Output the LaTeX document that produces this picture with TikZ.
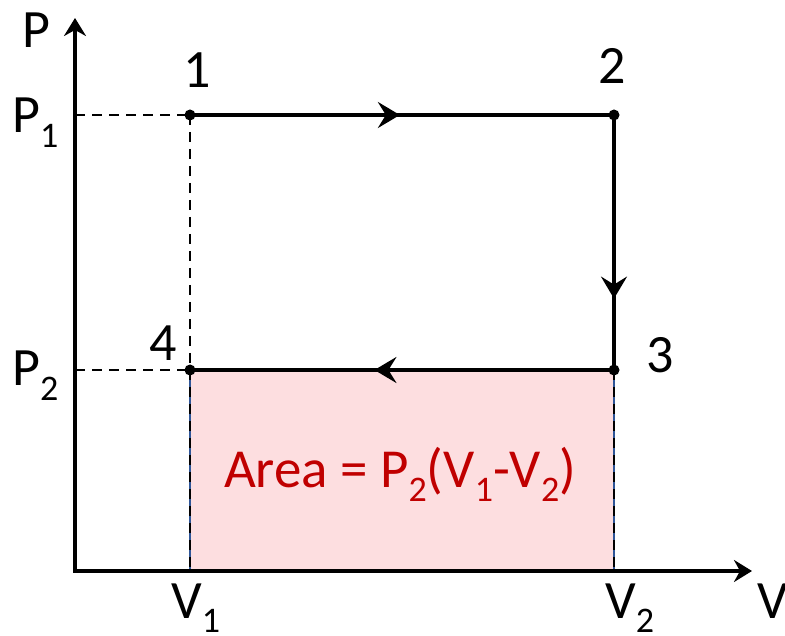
\documentclass[tikz,border=0pt]{standalone}
\usepackage{fontspec}
\setmainfont{Carlito}
\usetikzlibrary{arrows.meta,decorations.markings}
\definecolor{areafill}{RGB}{253,222,224}
\definecolor{areared}{RGB}{192,0,0}
\definecolor{areaborder}{RGB}{47,85,151}
\newcommand{\lowsub}[1]{\raisebox{-0.27em}{\fontsize{36}{40}\selectfont #1}}
\begin{document}
\begin{tikzpicture}[x=1pt,y=-1pt,
  lbl/.style={font=\fontsize{54}{60}\selectfont, inner sep=0pt},
  pathline/.style={line width=3.2pt},
  dashline/.style={line width=2.6pt, dash pattern=on 10pt off 7pt},
  axisline/.style={line width=3.2pt, -{Stealth[length=18pt,width=22pt,inset=6pt]}},
  midarrow/.style={postaction={decorate}, decoration={markings,
     mark=at position #1 with {\arrow{Stealth[length=22pt,width=26pt,inset=8pt]}}}},
  dot/.style={circle, fill=black, inner sep=0pt, minimum size=11pt}
]
\useasboundingbox (0,0) rectangle (785,636);
% key points
\coordinate (O) at (75,571);
\coordinate (ytop) at (75,18);
\coordinate (xend) at (752,571);
\coordinate (yP1) at (75,115);
\coordinate (yP2) at (75,370);
\coordinate (xV1) at (190,571);
\coordinate (xV2) at (614,571);
% area rectangle
\fill[areafill] (190,370) rectangle (614,571);
\draw[areaborder, line width=1.5pt] (190,370) rectangle (614,571);
% dashed guides
\draw[dashline] (yP1) -- (190,115);
\draw[dashline] (yP2) -- (190,370);
\draw[dashline] (190,115) -- (xV1);
\draw[dashline] (614,370) -- (xV2);
% axes
\draw[axisline] (O) -- (ytop);
\draw[axisline] ([xshift=-1.6pt]O) -- (xend);
% state points
\node[dot] (n1) at (190,115) {};
\node[dot] (n2) at (614,115) {};
\node[dot] (n3) at (614,370) {};
\node[dot] (n4) at (190,370) {};
% cycle
\draw[pathline, midarrow=0.495] (n1.center) -- (n2.center);
\draw[pathline, midarrow=0.72] (n2.center) -- (n3.center);
\draw[pathline, midarrow=0.565] (n3.center) -- (n4.center);
% labels
\node[lbl] (lP) at (36,30) {P};
\node[lbl] (l1) at (197,70) {1};
\node[lbl] (l2) at (612,66) {2};
\node[lbl] (l3) at (660,355) {3};
\node[lbl] (l4) at (163,343) {4};
\node[lbl, anchor=base west] (lP1) at (12,133) {P\lowsub{1}};
\node[lbl, anchor=base west] (lP2) at (12,386) {P\lowsub{2}};
\node[lbl, anchor=base west] (lV1) at (171,618) {V\lowsub{1}};
\node[lbl, anchor=base west] (lV2) at (605,618) {V\lowsub{2}};
\node[lbl, anchor=base west] (lV) at (757,618) {V};
\node[lbl, font=\fontsize{55}{60}\selectfont, text=areared, anchor=base] (area) at (400,487) {Area = P\lowsub{2}(V\lowsub{1}-V\lowsub{2})};
\end{tikzpicture}
\end{document}
